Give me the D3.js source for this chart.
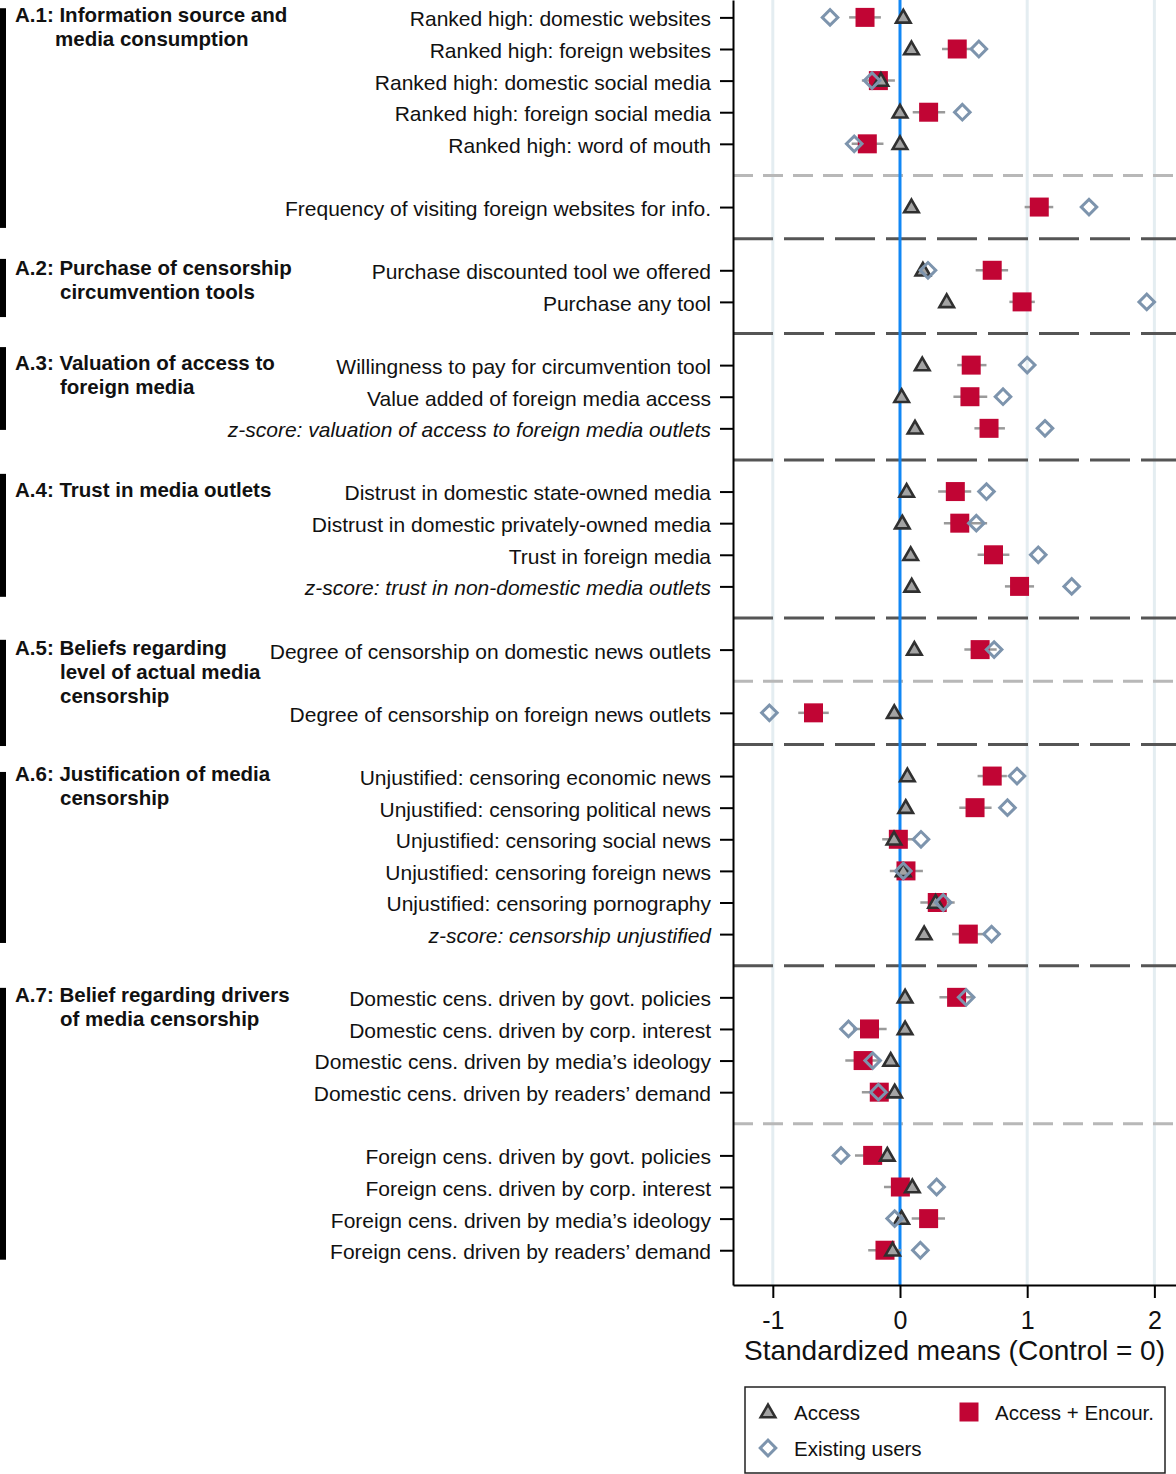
<!DOCTYPE html>
<html>
<head>
<meta charset="utf-8">
<script src="https://cdn.jsdelivr.net/npm/d3@7"></script>
<style>
  html, body { margin: 0; padding: 0; background: #fff; }
  svg { display: block; font-family: "Liberation Sans", Arial, Helvetica, sans-serif; }
</style>
</head>
<body>
<svg id="chart" width="1176" height="1474"></svg>
<script>
// ---------------- DATA ----------------
const labels = [
  "Ranked high: domestic websites",
  "Ranked high: foreign websites",
  "Ranked high: domestic social media",
  "Ranked high: foreign social media",
  "Ranked high: word of mouth",
  "Frequency of visiting foreign websites for info.",
  "Purchase discounted tool we offered",
  "Purchase any tool",
  "Willingness to pay for circumvention tool",
  "Value added of foreign media access",
  "z-score: valuation of access to foreign media outlets",
  "Distrust in domestic state-owned media",
  "Distrust in domestic privately-owned media",
  "Trust in foreign media",
  "z-score: trust in non-domestic media outlets",
  "Degree of censorship on domestic news outlets",
  "Degree of censorship on foreign news outlets",
  "Unjustified: censoring economic news",
  "Unjustified: censoring political news",
  "Unjustified: censoring social news",
  "Unjustified: censoring foreign news",
  "Unjustified: censoring pornography",
  "z-score: censorship unjustified",
  "Domestic cens. driven by govt. policies",
  "Domestic cens. driven by corp. interest",
  "Domestic cens. driven by media\u2019s ideology",
  "Domestic cens. driven by readers\u2019 demand",
  "Foreign cens. driven by govt. policies",
  "Foreign cens. driven by corp. interest",
  "Foreign cens. driven by media\u2019s ideology",
  "Foreign cens. driven by readers\u2019 demand"
];

// Access (triangles)
const access = [0.026, 0.09, -0.15, 0.0, 0.0, 0.09, 0.18, 0.367, 0.175, 0.013, 0.118,
  0.052, 0.018, 0.084, 0.092, 0.113, -0.045, 0.058, 0.045, -0.047, 0.026, 0.28, 0.19,
  0.04, 0.04, -0.073, -0.042, -0.10, 0.097, 0.013, -0.058];

// Access + Encour. (squares) with confidence interval
const encour = [-0.275, 0.45, -0.17, 0.225, -0.257, 1.095, 0.725, 0.96, 0.56, 0.55, 0.70,
  0.435, 0.47, 0.735, 0.94, 0.63, -0.68, 0.725, 0.59, -0.013, 0.047, 0.293, 0.537,
  0.445, -0.24, -0.29, -0.163, -0.215, 0.003, 0.225, -0.118];
const encourLo = [-0.40, 0.33, -0.30, 0.10, -0.38, 0.98, 0.595, 0.86, 0.45, 0.42, 0.585,
  0.30, 0.345, 0.61, 0.825, 0.506, -0.80, 0.61, 0.466, -0.14, -0.08, 0.16, 0.41,
  0.31, -0.37, -0.43, -0.30, -0.354, -0.126, 0.092, -0.25];
const encourHi = [-0.15, 0.57, -0.04, 0.355, -0.13, 1.205, 0.85, 1.06, 0.68, 0.686, 0.825,
  0.56, 0.685, 0.86, 1.054, 0.76, -0.56, 0.84, 0.72, 0.11, 0.18, 0.43, 0.66,
  0.58, -0.105, -0.15, -0.03, -0.08, 0.13, 0.354, 0.01];

// Existing users (hollow diamonds)
const existing = [-0.55, 0.62, -0.22, 0.49, -0.36, 1.486, 0.22, 1.94, 1.0, 0.81, 1.14,
  0.68, 0.60, 1.087, 1.35, 0.74, -1.027, 0.92, 0.845, 0.165, 0.026, 0.34, 0.72,
  0.52, -0.405, -0.215, -0.17, -0.464, 0.288, -0.042, 0.16];

// separators: after which row index, and style
const breaks = [
  {after: 4, style: "light"}, {after: 5, style: "dark"}, {after: 7, style: "dark"},
  {after: 10, style: "dark"}, {after: 14, style: "dark"}, {after: 15, style: "light"},
  {after: 16, style: "dark"}, {after: 22, style: "dark"}, {after: 26, style: "light"}
];

// groups: first/last row index and title lines
const groups = [
  {first: 0,  last: 5,  title: ["A.1: Information source and", "media consumption"]},
  {first: 6,  last: 7,  title: ["A.2: Purchase of censorship", "circumvention tools"]},
  {first: 8,  last: 10, title: ["A.3: Valuation of access to", "foreign media"]},
  {first: 11, last: 14, title: ["A.4: Trust in media outlets"]},
  {first: 15, last: 16, title: ["A.5: Beliefs regarding", "level of actual media", "censorship"]},
  {first: 17, last: 22, title: ["A.6: Justification of media", "censorship"]},
  {first: 23, last: 30, title: ["A.7: Belief regarding drivers", "of media censorship"]}
];

const xTicks = [-1, 0, 1, 2];
const xTitle = "Standardized means (Control = 0)";
const seriesNames = ["Access", "Access + Encour.", "Existing users"];

// ---------------- LAYOUT ----------------
const barPad = [[-0.29, 0.66], [-0.36, 0.48], [-0.57, 0.05], [-0.56, 0.33],
                [-0.31, 1.05], [-0.13, 0.28], [-0.30, 0.30]];
const titleIndent = [40, 45, 45, 45, 45, 45, 45];

const colors = {
  triFill: "#a3a3a3", triStroke: "#303030",
  square: "#c10534", ci: "#9a9a9a",
  diamond: "#7d94ad", zero: "#1187f5", grid: "#e4edf1",
  light: "#b8b8b8", dark: "#555555"
};

const W = 1176, H = 1474;
const plotL = 733, plotR = 1176, plotT = 0, plotB = 1285;

const breakSlots = [];
const rowSlots = labels.map((d, i) => {
  const nBefore = breaks.filter(b => b.after < i).length;
  return i + nBefore;
});
breaks.forEach(b => breakSlots.push({slot: rowSlots[b.after] + 1, style: b.style}));

const svg = d3.select("#chart");

const x = d3.scaleLinear().domain([-1.313, 2.17]).range([plotL, plotR]);
const y = d3.scaleLinear().domain([-0.55, 40.1]).range([plotT, plotB]);

// gridlines
svg.append("g").selectAll("line")
  .data(xTicks.filter(t => t !== 0))
  .join("line")
  .attr("x1", d => x(d)).attr("x2", d => x(d))
  .attr("y1", plotT).attr("y2", plotB)
  .attr("stroke", colors.grid).attr("stroke-width", 3);

// separators
svg.append("g").selectAll("line")
  .data(breakSlots)
  .join("line")
  .attr("x1", plotL).attr("x2", plotR)
  .attr("y1", d => y(d.slot)).attr("y2", d => y(d.slot))
  .attr("stroke", d => d.style === "light" ? colors.light : colors.dark)
  .attr("stroke-width", 3)
  .attr("stroke-dasharray", d => d.style === "light" ? "20,10" : "40,11");

// zero line
svg.append("line")
  .attr("x1", x(0)).attr("x2", x(0)).attr("y1", plotT).attr("y2", plotB)
  .attr("stroke", colors.zero).attr("stroke-width", 3);

// axes
const yAxis = d3.axisLeft(y)
  .tickValues(rowSlots)
  .tickFormat((d, i) => labels[i])
  .tickSize(13).tickSizeOuter(0).tickPadding(9);
const gy = svg.append("g").attr("transform", `translate(${plotL},0)`).call(yAxis);
gy.select(".domain").attr("stroke", "#000").attr("stroke-width", 2);
gy.selectAll(".tick line").attr("stroke", "#000").attr("stroke-width", 2);
gy.selectAll(".tick text")
  .attr("font-size", "21px").attr("fill", "#111")
  .attr("font-family", "Liberation Sans, Arial, sans-serif")
  .attr("dy", "0.4em")
  .attr("font-style", (d, i) => labels[i].startsWith("z-score") ? "italic" : "normal");

const xAxis = d3.axisBottom(x).tickValues(xTicks).tickFormat(d => String(d))
  .tickSize(13).tickSizeOuter(0).tickPadding(13);
const gx = svg.append("g").attr("transform", `translate(0,${plotB})`).call(xAxis);
gx.select(".domain").attr("stroke", "#000").attr("stroke-width", 2);
gx.selectAll(".tick line").attr("stroke", "#000").attr("stroke-width", 2);
gx.selectAll(".tick text").attr("font-size", "25px").attr("fill", "#111")
  .attr("font-family", "Liberation Sans, Arial, sans-serif");

svg.append("text")
  .attr("x", 954.5).attr("y", 1360)
  .attr("text-anchor", "middle")
  .attr("font-size", "28px").attr("fill", "#111")
  .text(xTitle);

// markers
const rows = labels.map((l, i) => ({
  i, slot: rowSlots[i], a: access[i], e: encour[i], lo: encourLo[i], hi: encourHi[i], u: existing[i]
}));

const triPath = d3.symbol().type(d3.symbolTriangle).size(92)();
const sqPath = d3.symbol().type(d3.symbolSquare).size(361)();
const diaPath = d3.symbol().type(d3.symbolSquare).size(121)();

const gm = svg.append("g");
gm.selectAll(".ci").data(rows).join("line")
  .attr("class", "ci")
  .attr("x1", d => x(d.lo)).attr("x2", d => x(d.hi))
  .attr("y1", d => y(d.slot)).attr("y2", d => y(d.slot))
  .attr("stroke", colors.ci).attr("stroke-width", 2.5);
gm.selectAll(".sq").data(rows).join("path")
  .attr("class", "sq")
  .attr("d", sqPath)
  .attr("transform", d => `translate(${x(d.e)},${y(d.slot)})`)
  .attr("fill", colors.square);
gm.selectAll(".tri").data(rows).join("path")
  .attr("class", "tri")
  .attr("d", triPath)
  .attr("transform", d => `translate(${x(d.a)},${y(d.slot) + 1})`)
  .attr("fill", colors.triFill).attr("stroke", colors.triStroke).attr("stroke-width", 2.6)
  .attr("stroke-linejoin", "miter");
gm.selectAll(".dia").data(rows).join("path")
  .attr("class", "dia")
  .attr("d", diaPath)
  .attr("transform", d => `translate(${x(d.u)},${y(d.slot)}) rotate(45)`)
  .attr("fill", "none").attr("stroke", colors.diamond).attr("stroke-width", 3);

// group bars & titles
const gg = svg.append("g");
groups.forEach((g, k) => {
  const s0 = rowSlots[g.first], s1 = rowSlots[g.last];
  const top = y(s0 + barPad[k][0]), bot = y(s1 + barPad[k][1]);
  gg.append("rect").attr("x", 0).attr("y", top).attr("width", 6).attr("height", bot - top)
    .attr("fill", "#000");
  const t = gg.append("text")
    .attr("font-size", "20.5px").attr("font-weight", "bold").attr("fill", "#111");
  g.title.forEach((line, j) => {
    t.append("tspan")
      .attr("x", j === 0 ? 15 : 15 + titleIndent[k])
      .attr("y", y(s0) + 5 + j * 24)
      .text(line);
  });
});

// legend
const lg = svg.append("g");
lg.append("rect").attr("x", 745).attr("y", 1387).attr("width", 420).attr("height", 86)
  .attr("fill", "#fff").attr("stroke", "#222").attr("stroke-width", 1.5);
const legendItems = [
  {name: seriesNames[0], mx: 768, my: 1412, type: "tri"},
  {name: seriesNames[1], mx: 969, my: 1412, type: "sq"},
  {name: seriesNames[2], mx: 768, my: 1448, type: "dia"}
];
legendItems.forEach(it => {
  const p = lg.append("path");
  if (it.type === "tri") {
    p.attr("d", triPath).attr("transform", `translate(${it.mx},${it.my + 1})`)
      .attr("fill", colors.triFill).attr("stroke", colors.triStroke).attr("stroke-width", 2.6);
  } else if (it.type === "sq") {
    p.attr("d", sqPath).attr("transform", `translate(${it.mx},${it.my})`).attr("fill", colors.square);
  } else {
    p.attr("d", diaPath).attr("transform", `translate(${it.mx},${it.my}) rotate(45)`)
      .attr("fill", "none").attr("stroke", colors.diamond).attr("stroke-width", 3);
  }
  lg.append("text").attr("x", it.mx + 26).attr("y", it.my + 8)
    .attr("font-size", "20.5px").attr("fill", "#111").text(it.name);
});
</script>
</body>
</html>
